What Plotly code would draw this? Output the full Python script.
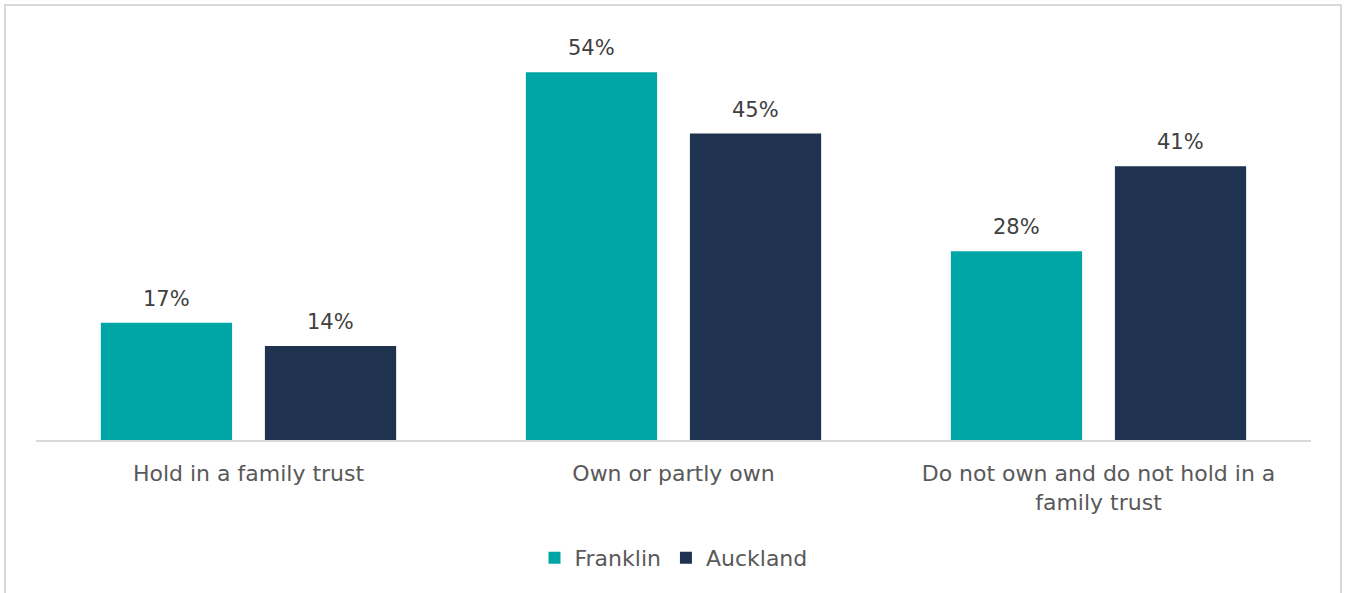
import plotly.graph_objects as go

categories = ["Hold in a family trust", "Own or partly own",
              "Do not own and do not hold in a<br>family trust"]
franklin = [17.2, 54.0, 27.7]
auckland = [13.8, 45.0, 40.2]
franklin_labels = ["17%", "54%", "28%"]
auckland_labels = ["14%", "45%", "41%"]
series_names = ["Franklin", "Auckland"]
colors = ["#00A6A6", "#1F324F"]

W, H = 1348, 593
ml, mr, mt, mb = 36, 37, 20, 153
pw, ph = W - ml - mr, H - mt - mb
FONT = "DejaVu Sans, Liberation Sans, Arial, sans-serif"

fig = go.Figure()
for name, vals, col in zip(series_names, [franklin, auckland], colors):
    fig.add_trace(go.Bar(
        x=categories, y=vals, name=name, marker_color=col,
        marker_line_width=0,
    ))

# data labels as annotations, offset to each bar of the group
slot_px = pw / 3 * (1 - 0.228) / 2
for vals, labels, sign in zip([franklin, auckland], [franklin_labels, auckland_labels], [-1, 1]):
    for c, v, t in zip(categories, vals, labels):
        fig.add_annotation(x=c, y=v, xref="x", yref="y", text=t,
                           showarrow=False, xshift=sign * slot_px / 2,
                           yanchor="bottom", yshift=10,
                           font=dict(color="#404040", size=21, family=FONT))

def px_x(p):
    return (p - ml) / pw

def px_y(p):
    return (H - mb - p) / ph

fig.update_layout(
    width=W, height=H,
    margin=dict(l=ml, r=mr, t=mt, b=mb),
    paper_bgcolor="white", plot_bgcolor="white",
    font=dict(family=FONT, color="#595959", size=22),
    barmode="group", bargap=0.228, bargroupgap=0.2,
    showlegend=True,
    legend=dict(orientation="h", x=0.50, xanchor="center", y=px_y(558), yanchor="middle",
                font=dict(size=22, color="#595959"), itemsizing="constant"),
    xaxis=dict(showline=True, linecolor="#D9D9D9", linewidth=1.5, ticks="",
               tickfont=dict(size=22, color="#595959"), showgrid=False,
               ticklabelstandoff=13),
    yaxis=dict(visible=False, range=[0, ph / 6.81], showgrid=False, zeroline=False),
    shapes=[dict(type="rect", xref="paper", yref="paper",
                 x0=px_x(5), x1=px_x(1341), y0=px_y(600), y1=px_y(5),
                 line=dict(color="#D9D9D9", width=2), fillcolor="rgba(0,0,0,0)")],
)

fig.write_html("out.html", config={"displayModeBar": False},
               post_script="document.body.style.margin='0';document.body.style.padding='0';")
